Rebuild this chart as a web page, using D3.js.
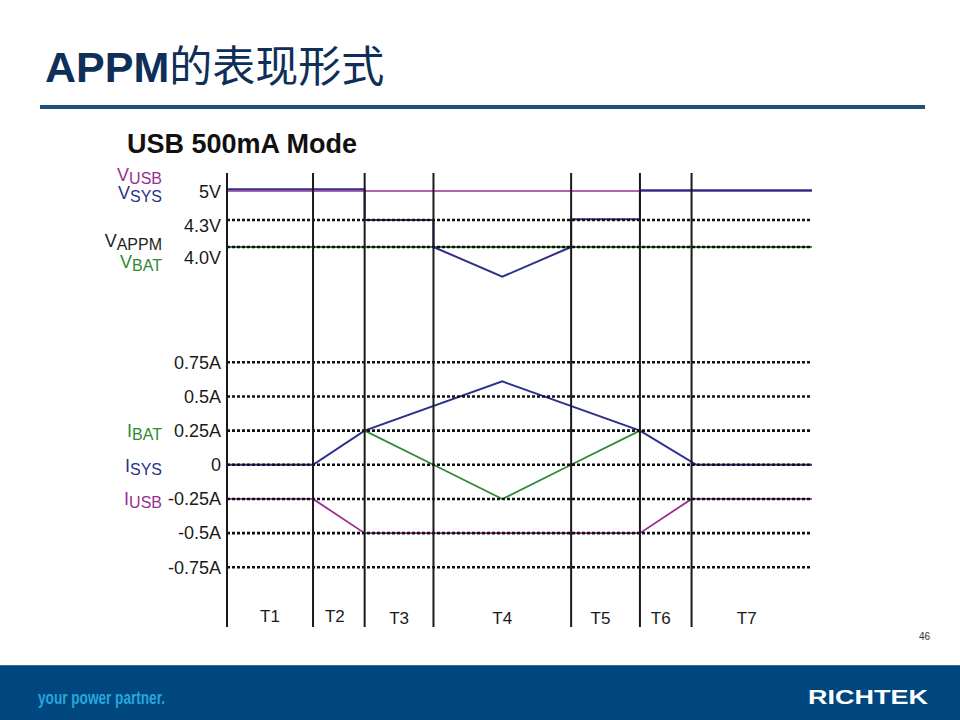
<!DOCTYPE html>
<html>
<head>
<meta charset="utf-8">
<script src="https://cdn.jsdelivr.net/npm/d3@7/dist/d3.min.js"></script>
<style>
  html, body { margin: 0; padding: 0; background: #fff; }
  svg { display: block; }
  text { font-family: "Liberation Sans", Arial, sans-serif; }
</style>
</head>
<body>
<svg id="chart" width="960" height="720"></svg>
<script>
// ---------------- data ----------------
const periodLabels = ["T1", "T2", "T3", "T4", "T5", "T6", "T7"];
const periodBounds = [0, 1.25, 2, 3, 5, 6, 6.75, 8.5];   // time units

const voltTicks = [5.0, 4.3, 4.0];
const voltTickLabels = ["5V", "4.3V", "4.0V"];
const voltGrid = [4.3, 4.0];

const currTicks = [0.75, 0.5, 0.25, 0, -0.25, -0.5, -0.75];
const currTickLabels = ["0.75A", "0.5A", "0.25A", "0", "-0.25A", "-0.5A", "-0.75A"];

// voltage traces [t, V]
const vUSB  = [[0, 5.0], [8.5, 5.0]];
const vAPPM = [[0, 4.0], [8.5, 4.0]];
const vBAT  = [[0, 4.0], [8.5, 4.0]];
const vSYS  = [[0, 5.04], [2, 5.04], [2, 4.3], [3, 4.3], [3, 4.0], [4, 3.67], [5, 4.0],
               [5, 4.32], [6, 4.32], [6, 5.02], [8.5, 5.02]];

// current traces [t, A]
const iSYS = [[0, 0], [1.25, 0], [2, 0.25], [4, 0.61], [6, 0.25], [6.82, 0], [8.5, 0]];
const iBAT = [[2, 0.25], [3, 0], [4, -0.25], [5, 0], [6, 0.25]];
const iUSB = [[0, -0.25], [1.25, -0.25], [2, -0.5], [6, -0.5], [6.75, -0.25], [8.5, -0.25]];

const colors = { usb: "#962f91", sys: "#2c2f8c", bat: "#2f8a35", appm: "#222222" };

// ---------------- drawing ----------------
const svg = d3.select("#chart");

// Title
const title = svg.append("text").attr("x", 45).attr("y", 82)
  .attr("fill", "#0e2f58").style("font-size", "43px");
title.append("tspan").text("APPM").style("font-weight", "bold")
  .style("font-family", "'Liberation Sans', Arial, sans-serif");
title.append("tspan").text("的表现形式")
  .style("font-family", "'Noto Sans CJK SC', sans-serif").style("font-weight", "400");

svg.append("rect").attr("x", 40).attr("y", 105).attr("width", 885).attr("height", 4)
  .attr("fill", "#1f4f7e");

svg.append("text").attr("x", 127).attr("y", 153).text("USB 500mA Mode")
  .style("font-size", "27px").style("font-weight", "bold").attr("fill", "#111")
  .attr("textLength", 230).attr("lengthAdjust", "spacingAndGlyphs");

// Scales
const x = d3.scaleLinear().domain([0, 8.5]).range([227, 812]);
const yV = d3.scaleLinear().domain([4.0, 4.3, 5.0]).range([247, 220, 191]);
const yI = d3.scaleLinear().domain([-0.75, 0.75]).range([567.3, 362.3]);

const lineV = d3.line().x(d => x(d[0])).y(d => yV(d[1]));
const lineI = d3.line().x(d => x(d[0])).y(d => yI(d[1]));

const g = svg.append("g");

// traces
function trace(data, gen, color, w) {
  g.append("path").datum(data).attr("d", gen).attr("fill", "none")
    .attr("stroke", color).attr("stroke-width", w).attr("stroke-linejoin", "miter");
}
trace(vAPPM, lineV, colors.appm, 2);
trace(vBAT, lineV, colors.bat, 2.2);
trace(vUSB, lineV, colors.usb, 1.5);
trace(vSYS, lineV, colors.sys, 2);
trace(iUSB, lineI, colors.usb, 1.8);
trace(iBAT, lineI, colors.bat, 1.8);
trace(iSYS, lineI, colors.sys, 2);

// dashed grid
const dash = { "stroke": "#111", "stroke-width": 2.6, "stroke-dasharray": "3,2" };
function gridLines(vals, scale) {
  const sel = g.append("g").selectAll("line").data(vals).join("line")
    .attr("x1", x(0)).attr("x2", x(8.5))
    .attr("y1", d => scale(d)).attr("y2", d => scale(d));
  Object.entries(dash).forEach(([k, v]) => sel.attr(k, v));
}
gridLines(voltGrid, yV);
gridLines(currTicks, yI);

// vertical period boundaries
g.append("g").selectAll("line").data(periodBounds.slice(0, -1)).join("line")
  .attr("x1", d => x(d)).attr("x2", d => x(d))
  .attr("y1", 173).attr("y2", 627)
  .attr("stroke", "#1a1a1a").attr("stroke-width", 2);

// period labels
svg.append("g").selectAll("text").data(periodLabels).join("text")
  .attr("x", (d, i) => x((periodBounds[i] + periodBounds[i + 1]) / 2) - (i >= 4 ? 5 : (i === 1 ? 4 : 0)))
  .attr("y", (d, i) => i < 2 ? 622 : 624)
  .attr("text-anchor", "middle").style("font-size", "17px").attr("fill", "#1a1a1a")
  .text(d => d);

// Axes (tick labels only)
const voltDy = [1, 6, 11];
const axV = svg.append("g").attr("transform", "translate(227,0)")
  .call(d3.axisLeft(yV).tickValues(voltTicks).tickSize(0).tickPadding(6)
    .tickFormat((d, i) => voltTickLabels[i]));
axV.select(".domain").remove();
axV.selectAll("text").style("font-size", "18px").style("font-family", "'Liberation Sans', Arial, sans-serif")
  .attr("fill", "#1a1a1a").attr("dy", (d, i) => (0.32 * 18 + voltDy[i]) + "px");

const axI = svg.append("g").attr("transform", "translate(227,0)")
  .call(d3.axisLeft(yI).tickValues(currTicks).tickSize(0).tickPadding(6)
    .tickFormat((d, i) => currTickLabels[i]));
axI.select(".domain").remove();
axI.selectAll("text").style("font-size", "18px").style("font-family", "'Liberation Sans', Arial, sans-serif")
  .attr("fill", "#1a1a1a");

// series labels with subscripts
const seriesLabels = [
  { main: "V", sub: "USB", color: colors.usb, y: 181 },
  { main: "V", sub: "SYS", color: colors.sys, y: 199 },
  { main: "V", sub: "APPM", color: colors.appm, y: 247 },
  { main: "V", sub: "BAT", color: colors.bat, y: 268 },
  { main: "I", sub: "BAT", color: colors.bat, y: 437 },
  { main: "I", sub: "SYS", color: colors.sys, y: 472 },
  { main: "I", sub: "USB", color: colors.usb, y: 505 }
];
seriesLabels.forEach(s => {
  const t = svg.append("text").attr("x", 162).attr("y", s.y).attr("text-anchor", "end")
    .attr("fill", s.color).style("font-size", "18px");
  t.append("tspan").text(s.main);
  t.append("tspan").text(s.sub).attr("dy", 3).style("font-size", "16px");
});

// page number
svg.append("text").attr("x", 930).attr("y", 640).attr("text-anchor", "end")
  .style("font-size", "10px").attr("fill", "#333").text("46");

// footer band
svg.append("rect").attr("x", 0).attr("y", 665).attr("width", 960).attr("height", 55).attr("fill", "#00477f");
svg.append("rect").attr("x", 0).attr("y", 665).attr("width", 960).attr("height", 1).attr("fill", "#3a6d98");
svg.append("text").attr("x", 38).attr("y", 704).text("your power partner.")
  .attr("fill", "#27a6dc").style("font-size", "19px").style("font-weight", "bold")
  .style("font-family", "'Liberation Sans Narrow', 'Liberation Sans', sans-serif")
  .attr("textLength", 127).attr("lengthAdjust", "spacingAndGlyphs");
svg.append("text").attr("x", 808).attr("y", 704).text("RICHTEK")
  .attr("fill", "#ffffff").style("font-size", "21px").style("font-weight", "bold")
  .attr("textLength", 120).attr("lengthAdjust", "spacingAndGlyphs");
</script>
</body>
</html>
